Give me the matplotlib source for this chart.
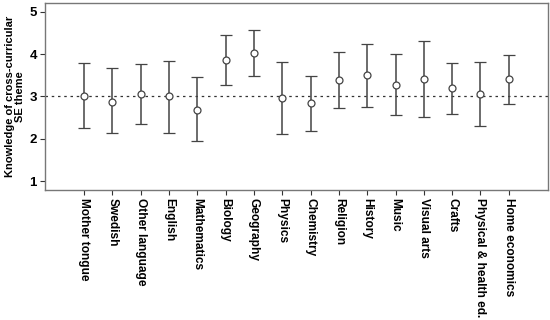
import matplotlib
matplotlib.use("Agg")
import matplotlib.pyplot as plt

subjects = ["Mother tongue", "Swedish", "Other language", "English", "Mathematics",
            "Biology", "Geography", "Physics", "Chemistry", "Religion", "History",
            "Music", "Visual arts", "Crafts", "Physical & health ed.", "Home economics"]
means = [3.01, 2.88, 3.05, 3.00, 2.69, 3.87, 4.03, 2.97, 2.84, 3.38, 3.50, 3.28, 3.41, 3.19, 3.05, 3.40]
upper = [3.79, 3.66, 3.76, 3.84, 3.45, 4.45, 4.57, 3.81, 3.49, 4.05, 4.24, 4.00, 4.30, 3.79, 3.81, 3.97]
lower = [2.26, 2.13, 2.36, 2.14, 1.95, 3.27, 3.48, 2.12, 2.19, 2.72, 2.75, 2.56, 2.51, 2.59, 2.30, 2.83]
yticks = [1, 2, 3, 4, 5]
ref_line = 3

plt.rcParams['font.family'] = ['Liberation Sans', 'DejaVu Sans']

fig = plt.figure(figsize=(5.5, 3.2), dpi=100)
ax = fig.add_axes([0.082, 0.406, 0.914, 0.584])

x = list(range(len(subjects)))
err = [[m - l for m, l in zip(means, lower)], [u - m for m, u in zip(means, upper)]]
ax.errorbar(x, means, yerr=err, fmt='o', mfc='white', mec='#444444', ms=5, mew=0.9,
            ecolor='#444444', elinewidth=1.1, capsize=4.5, capthick=1.1, zorder=3)
ax.axhline(ref_line, color='#333333', linestyle=(0, (2, 3)), linewidth=0.9, zorder=1)

ax.set_xlim(-1.38, len(subjects) - 1 + 1.38)
ax.set_ylim(0.79, 5.2)
ax.set_yticks(yticks)
ax.set_yticklabels([str(t) for t in yticks], fontsize=9.5, fontweight='bold')
ax.set_xticks(x)
ax.set_xticklabels(subjects, rotation=270, fontsize=8.6, fontweight='bold', va='top', ha='center')
ax.tick_params(axis='both', length=3.5, width=0.8, color='#333333', pad=2.5)
ax.set_ylabel("Knowledge of cross-curricular\nSE theme", fontsize=8, fontweight='bold',
              labelpad=3, linespacing=1.05)
for s in ax.spines.values():
    s.set_color('#777777')
    s.set_linewidth(1.0)

fig.savefig("out.png", dpi=100)
